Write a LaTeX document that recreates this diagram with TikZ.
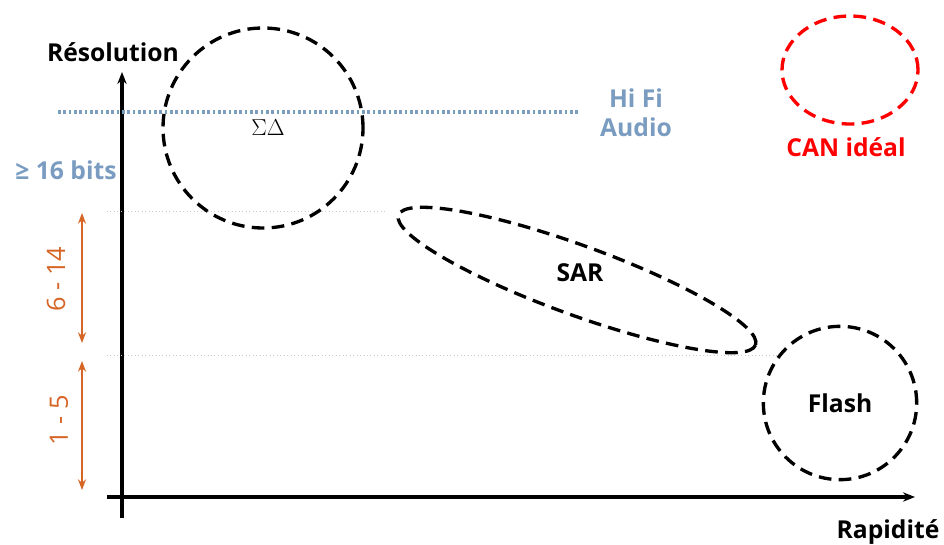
\documentclass[tikz,border=0pt]{standalone}
\usepackage{fontspec}
\setmainfont{Open Sans}
\usetikzlibrary{arrows.meta, positioning, shapes.geometric}
\definecolor{hifiblue}{RGB}{122,156,192}
\definecolor{bitorange}{RGB}{214,100,36}
\definecolor{guidegray}{RGB}{196,206,192}

\begin{document}
\begin{tikzpicture}[x=0.75pt, y=-0.75pt,
  lbl/.style={font=\fontsize{18.5}{22}\selectfont\bfseries, inner sep=1pt},
  zone/.style={draw, line width=2.5pt, dash pattern=on 9.5pt off 5.5pt,
               inner sep=0pt, font=\fontsize{18.5}{22}\selectfont\bfseries},
  axis/.style={-{Stealth[length=9pt, width=7pt]}, line width=2.3pt},
  bitrange/.style={{Stealth[length=8pt, width=6pt]}-{Stealth[length=8pt, width=6pt]},
                line width=1.2pt, draw=bitorange},
  guide/.style={draw=guidegray, dotted, line width=0.6pt},
  hifi/.style={draw=hifiblue, line width=2.3pt, dash pattern=on 2pt off 2pt},
]
\useasboundingbox (0,0) rectangle (944,545);

% ---- axes ----
\coordinate (ybot) at (122,518);
\coordinate (ytop) at (122,72);
\coordinate (xleft) at (107,497);
\coordinate (xright) at (915,497);
\draw[axis] (ybot) -- (ytop);
\draw[axis] (xleft) -- (xright);
\node[lbl] (resol) at (113,52) {Résolution};
\node[lbl] (rapid) at (888,532) {Rapidité};

% ---- repères ----
\coordinate (hifil) at (58,112);
\coordinate (hifir) at (580,112);
\draw[hifi] (hifil) -- (hifir);
\coordinate (g14l) at (107,211);
\coordinate (g14r) at (387,211);
\coordinate (g5l) at (107,355);
\coordinate (g5r) at (780,355);
\draw[guide] (g14l) -- (g14r);
\draw[guide] (g5l) -- (g5r);

\node[lbl, text=hifiblue, align=center] (hifi) at (636,113) {Hi Fi\\Audio};
\node[lbl, text=hifiblue] (bits16) at (66,170) {≥ 16 bits};

% ---- plages ----
\coordinate (r614t) at (82,213);
\coordinate (r614b) at (82,343);
\coordinate (r15t) at (82,361);
\coordinate (r15b) at (82,490);
\draw[bitrange] (r614t) -- (r614b);
\draw[bitrange] (r15t) -- (r15b);
\node[rotate=90, font=\fontsize{19}{22}\selectfont, text=bitorange] (n614) at (56,279) {6 - 14};
\node[rotate=90, font=\fontsize{19}{22}\selectfont, text=bitorange] (n15) at (59,420) {1 - 5};

% ---- architectures ----
\node[zone, circle, minimum size=150pt] (sigdel) at (263,128) {};
\node[font=\fontsize{16}{18}\selectfont] (sigdellbl) at (268,128) {$\Sigma\Delta$};

\node[zone, ellipse, rotate=-20, minimum width=285pt, minimum height=52pt] (sar) at (577,280) {};
\node[lbl] (sarlbl) at (580,273) {SAR};

\node[zone, circle, minimum size=115pt] (flash) at (840,403) {Flash};

\node[zone, draw=red, ellipse, minimum width=102pt, minimum height=81pt] (canideal) at (850,70) {};
\node[lbl, text=red] (canlbl) at (846,147) {CAN idéal};

\end{tikzpicture}
\end{document}
